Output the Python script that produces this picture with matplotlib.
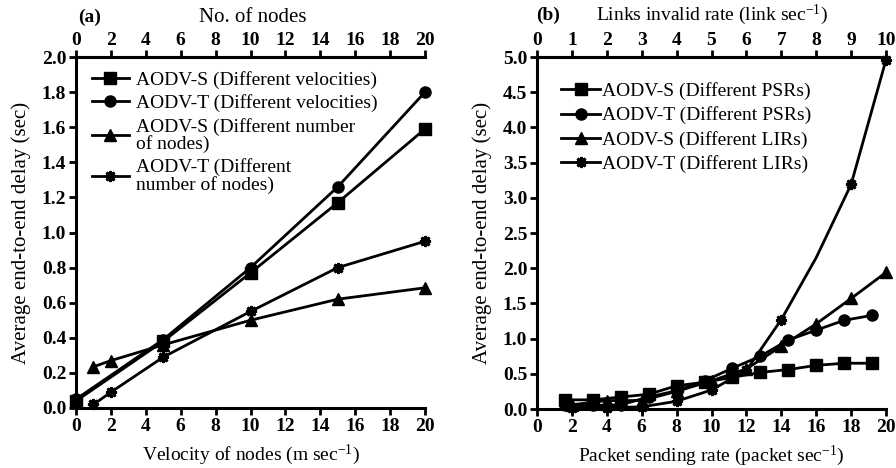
import matplotlib
matplotlib.use("Agg")
import matplotlib.pyplot as plt

plt.rcParams['font.family'] = ['Liberation Serif', 'DejaVu Serif']
plt.rcParams['mathtext.fontset'] = 'custom'
plt.rcParams['mathtext.rm'] = 'Liberation Serif'
plt.rcParams['mathtext.it'] = 'Liberation Serif:italic'
plt.rcParams['mathtext.bf'] = 'Liberation Serif:bold'

# ---- Panel (a) data ----
vel_x = [0, 5, 10, 15, 20]
aodv_s_vel = [0.04, 0.38, 0.77, 1.17, 1.59]
aodv_t_vel = [0.05, 0.39, 0.80, 1.26, 1.80]
nodes_x = [1, 2, 5, 10, 15, 20]
aodv_s_nodes = [0.235, 0.27, 0.36, 0.50, 0.62, 0.685]
aodv_t_nodes = [0.02, 0.09, 0.29, 0.55, 0.80, 0.95]
labels_a = ["AODV-S (Different velocities)", "AODV-T (Different velocities)",
            "AODV-S (Different number\nof nodes)", "AODV-T (Different\nnumber of nodes)"]

# ---- Panel (b) data ----
psr_x = [1.6, 3.2, 4.8, 6.4, 8.0, 9.6, 11.2, 12.8, 14.4, 16.0, 17.6, 19.2]
aodv_s_psr = [0.13, 0.13, 0.17, 0.21, 0.33, 0.38, 0.45, 0.52, 0.56, 0.62, 0.65, 0.65]
aodv_t_psr = [0.05, 0.05, 0.06, 0.17, 0.26, 0.40, 0.58, 0.75, 0.98, 1.12, 1.26, 1.33]
lir_x = [2, 4, 6, 8, 10, 12, 14, 16, 18, 20]
aodv_s_lir = [0.06, 0.12, 0.12, 0.25, 0.40, 0.57, 0.89, 1.21, 1.57, 1.94]
aodv_t_lir = [0.02, 0.02, 0.03, 0.11, 0.27, 0.55, 1.27, 2.15, 3.19, 4.96]
labels_b = ["AODV-S (Different PSRs)", "AODV-T (Different PSRs)",
            "AODV-S (Different LIRs)", "AODV-T (Different LIRs)"]

fig = plt.figure(figsize=(8.96, 4.68), dpi=100)
W, H = 896, 468
axA = fig.add_axes([76 / W, 1 - 408 / H, (425 - 76) / W, (408 - 57) / H])
axB = fig.add_axes([537 / W, 1 - 409 / H, (886 - 537) / W, (409 - 57) / H])

lw = 2.0
ms = 8
tick_fs = 14
xlab_fs = 14
ylab_fs = 15
leg_fs = 14


def style(ax):
    for s in ['left', 'bottom', 'top']:
        ax.spines[s].set_linewidth(2.2)
    ax.spines['right'].set_visible(False)
    ax.tick_params(axis='both', which='major', direction='out', length=5, width=2,
                   labelsize=tick_fs, pad=2)
    for lab in ax.get_xticklabels() + ax.get_yticklabels():
        lab.set_fontweight('bold')


# Panel (a)
axA.plot(vel_x, aodv_s_vel, '-s', color='black', lw=lw, ms=ms, label=labels_a[0], clip_on=False)
axA.plot(vel_x, aodv_t_vel, '-o', color='black', lw=lw, ms=ms, label=labels_a[1], clip_on=False)
axA.plot(nodes_x, aodv_s_nodes, '-^', color='black', lw=lw, ms=ms, label=labels_a[2], clip_on=False)
axA.plot(nodes_x, aodv_t_nodes, '-', marker=(8, 2, 0), color='black', lw=lw, ms=ms, mew=2,
         label=labels_a[3], clip_on=False)
axA.set_xlim(0, 20)
axA.set_ylim(0, 2.0)
axA.set_xticks(range(0, 21, 2))
axA.set_yticks([i / 10 for i in range(0, 21, 2)])
axA.set_yticklabels([f"{i / 10:.1f}" for i in range(0, 21, 2)])
axA.set_xlabel("Velocity of nodes (m sec$^{-1}$)", fontsize=xlab_fs, labelpad=6)
axA.set_ylabel("Average end-to-end delay (sec)", fontsize=ylab_fs)
axA.yaxis.set_label_coords(-(76 - 31) / (425 - 76), 0.5)
style(axA)
topA = axA.secondary_xaxis('top')
topA.set_xticks(range(0, 21, 2))
topA.tick_params(direction='out', length=5, width=2, labelsize=tick_fs, pad=1)
for lab in topA.get_xticklabels():
    lab.set_fontweight('bold')
topA.spines['top'].set_linewidth(2.2)
legA = axA.legend(loc='upper left', bbox_to_anchor=(-0.005, 1.01), frameon=False, fontsize=leg_fs,
                  handlelength=1.9, handletextpad=0.4, labelspacing=0.28, borderaxespad=0.5)
for t in legA.get_texts():
    t.set_linespacing(0.95)
fig.text(253 / W, 1 - 17 / H, "No. of nodes", ha='center', va='center', fontsize=15)
fig.text(90 / W, 1 - 17 / H, "(a)", ha='center', va='center', fontsize=14, fontweight='bold')

# Panel (b)
axB.plot(psr_x, aodv_s_psr, '-s', color='black', lw=lw, ms=ms, label=labels_b[0], clip_on=False)
axB.plot(psr_x, aodv_t_psr, '-o', color='black', lw=lw, ms=ms, label=labels_b[1], clip_on=False)
axB.plot(lir_x, aodv_s_lir, '-^', color='black', lw=lw, ms=ms, label=labels_b[2], clip_on=False)
axB.plot(lir_x, aodv_t_lir, '-', marker=(8, 2, 0), color='black', lw=lw, ms=ms, mew=2,
         markevery=[0, 1, 2, 3, 4, 5, 6, 8, 9], label=labels_b[3], clip_on=False)
axB.set_xlim(0, 20)
axB.set_ylim(0, 5.0)
axB.set_xticks(range(0, 21, 2))
axB.set_yticks([i / 2 for i in range(0, 11)])
axB.set_yticklabels([f"{i / 2:.1f}" for i in range(0, 11)])
axB.set_xlabel("Packet sending rate (packet sec$^{-1}$)", fontsize=xlab_fs, labelpad=6)
axB.set_ylabel("Average end-to-end delay (sec)", fontsize=ylab_fs)
axB.yaxis.set_label_coords(-(537 - 492) / (886 - 537), 0.5)
style(axB)
topB = axB.secondary_xaxis('top', functions=(lambda x: x / 2, lambda x: x * 2))
topB.set_xticks(range(0, 11))
topB.tick_params(direction='out', length=5, width=2, labelsize=tick_fs, pad=1)
for lab in topB.get_xticklabels():
    lab.set_fontweight('bold')
topB.spines['top'].set_linewidth(2.2)
axB.legend(loc='upper left', bbox_to_anchor=(0.047, 0.95), frameon=False, fontsize=leg_fs,
           handlelength=2.0, handletextpad=0.1, labelspacing=0.32, borderaxespad=0.0)
fig.text(712 / W, 1 - 15 / H, "Links invalid rate (link sec$^{-1}$)", ha='center', va='center',
         fontsize=14)
fig.text(548 / W, 1 - 15 / H, "(b)", ha='center', va='center', fontsize=14, fontweight='bold')

fig.savefig("out.png", dpi=100)
